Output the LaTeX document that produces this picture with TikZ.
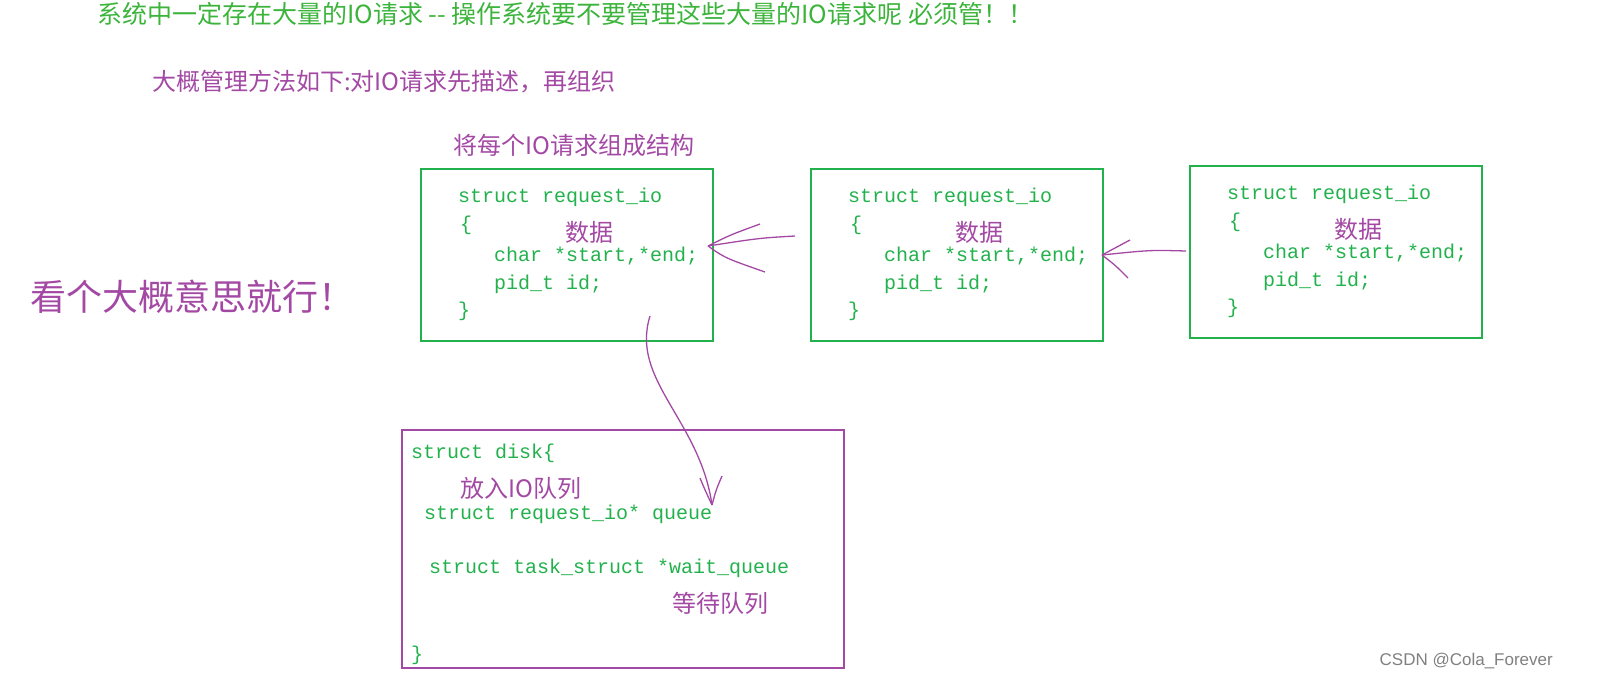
\documentclass[tikz,border=0pt]{standalone}
\usepackage{fontspec}
\setmonofont{Liberation Mono}
\newfontfamily\cjk{Noto Sans CJK SC}
\newfontfamily\wmark{Liberation Sans}
\usetikzlibrary{positioning}
\definecolor{codegreen}{RGB}{34,177,76}
\definecolor{notepurple}{RGB}{163,73,164}
\definecolor{titlegreen}{RGB}{60,180,60}
\tikzset{
  box/.style={draw,line width=2.2pt,anchor=north west,inner sep=0pt},
  code/.style={anchor=west,inner sep=0pt,text=codegreen,font=\fontsize{20}{23}\selectfont\ttfamily},
  note/.style={anchor=west,inner sep=0pt,text=notepurple,font=\fontsize{24}{27}\selectfont\cjk},
  pen/.style={notepurple,line width=1.3pt}
}
\begin{document}
\begin{tikzpicture}[x=1pt,y=-1pt]

% headings
\node[anchor=west,inner sep=0pt,text=titlegreen,font=\fontsize{25}{28}\selectfont\cjk] (title) at (97,14)
  {系统中一定存在大量的IO请求 -- 操作系统要不要管理这些大量的IO请求呢 必须管！！};
\node[note] (howto) at (152,82) {大概管理方法如下:对IO请求先描述，再组织};
\node[note] (struct) at (453,145) {将每个IO请求组成结构};
\node[note,font=\fontsize{36}{40}\selectfont\cjk] (hint) at (30,297) {看个大概意思就行！};

% request boxes
\foreach \n/\x/\y in {one/420/168,two/810/168,three/1189/165}{
  \node[box,draw=codegreen,minimum width=292pt,minimum height=172pt] (\n) at (\x,\y) {};
  \node[code] at (\x+38,\y+29) {struct request\_io};
  \node[code] at (\x+40,\y+57) {\{};
  \node[code] at (\x+74,\y+88) {char *start,*end;};
  \node[code] at (\x+74,\y+116) {pid\_t id;};
  \node[code] at (\x+38,\y+143) {\}};
  \node[note] at (\x+145,\y+64) {数据};
}

% disk box
\node[box,draw=notepurple,minimum width=442pt,minimum height=238pt] (disk) at (401,429) {};
\node[code] at (411,453) {struct disk\{};
\node[note] at (460,488) {放入IO队列};
\node[code] at (424,514) {struct request\_io* queue};
\node[code] at (429,568) {struct task\_struct *wait\_queue};
\node[note] at (672,603) {等待队列};
\node[code] at (411,655) {\}};

% hand drawn links
\coordinate (a1) at (795,236);
\coordinate (a2) at (708,246);
\draw[pen] (a1) .. controls (760,238) .. (a2);
\draw[pen] (a2) .. controls (730,235) .. (760,224);
\draw[pen] (a2) .. controls (725,258) .. (765,272);
\coordinate (b1) at (1186,251);
\coordinate (b2) at (1102,255);
\draw[pen] (b1) .. controls (1150,250) .. (b2);
\draw[pen] (b2) .. controls (1115,248) .. (1130,240);
\draw[pen] (b2) .. controls (1115,265) .. (1128,278);
\coordinate (c1) at (650,316);
\coordinate (c2) at (712,505);
\draw[pen] (c1) .. controls (630,380) and (700,420) .. (c2);
\draw[pen] (c2) .. controls (705,490) .. (700,478);
\draw[pen] (c2) .. controls (716,490) .. (722,476);

\node[anchor=east,inner sep=0pt,text=gray,font=\fontsize{17}{19}\selectfont\wmark] (mark) at (1553,661) {CSDN @Cola\_Forever};

\pgfresetboundingbox
\useasboundingbox (0,0) rectangle (1597,691);
\end{tikzpicture}
\end{document}
